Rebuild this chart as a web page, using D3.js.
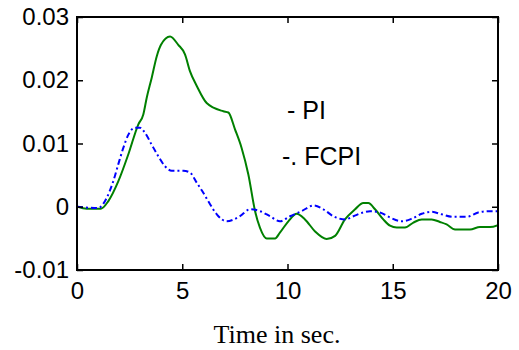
<!DOCTYPE html>
<html>
<head>
<meta charset="utf-8">
<script src="https://cdn.jsdelivr.net/npm/d3@7"></script>
<style>
  html, body { margin: 0; padding: 0; background: #fff; }
  svg { display: block; }
</style>
</head>
<body>
<div id="chart"></div>
<script>
// ---- data ----
const piTime = [0.03, 0.46, 1.14, 1.49, 1.96, 2.44, 2.91, 3.15, 3.31, 3.55, 3.79, 3.99, 4.42, 4.81, 5.13, 5.37, 5.69, 6.16, 6.95, 7.19, 7.51, 7.82, 8.14, 8.46, 8.69, 9.01, 9.41, 9.64, 10.04, 10.44, 10.83, 11.31, 11.86, 12.26, 12.73, 13.21, 13.60, 13.84, 14.16, 14.55, 14.87, 15.19, 15.58, 15.98, 16.38, 16.85, 17.24, 17.56, 17.96, 18.67, 19.14, 19.62, 20.0];
const piValue = [0, -0.0003, -0.0003, 0.0009, 0.0040, 0.0083, 0.0130, 0.0146, 0.0172, 0.0204, 0.0238, 0.0256, 0.0269, 0.0256, 0.0241, 0.0214, 0.0191, 0.0164, 0.0151, 0.0149, 0.0122, 0.0093, 0.0051, -0.0007, -0.0033, -0.0050, -0.0050, -0.0041, -0.0023, -0.0011, -0.0020, -0.0039, -0.0051, -0.0046, -0.0020, -0.0004, 0.0006, 0.0006, -0.0004, -0.0020, -0.0030, -0.0033, -0.0033, -0.0025, -0.0020, -0.0020, -0.0024, -0.0028, -0.0036, -0.0036, -0.0032, -0.0032, -0.0029];
const fcpiTime = [0, 1.01, 1.41, 1.72, 1.96, 2.20, 2.44, 2.76, 2.99, 3.23, 3.55, 3.86, 4.18, 4.50, 5.05, 5.37, 5.69, 6.00, 6.32, 6.64, 7.11, 7.74, 8.22, 8.69, 9.17, 9.64, 10.12, 10.67, 11.23, 11.70, 12.18, 12.73, 13.13, 13.60, 13.92, 14.39, 14.87, 15.43, 15.90, 16.38, 16.85, 17.33, 17.88, 18.51, 19.06, 19.54, 20.0];
const fcpiValue = [0, -0.0002, 0.0014, 0.0040, 0.0067, 0.0093, 0.0114, 0.0125, 0.0125, 0.0117, 0.0098, 0.0080, 0.0064, 0.0057, 0.0057, 0.0054, 0.0038, 0.0022, 0.0004, -0.0012, -0.0023, -0.0015, -0.0004, -0.0007, -0.0015, -0.0023, -0.0015, -0.0007, 0.0002, -0.0004, -0.0015, -0.0020, -0.0015, -0.0009, -0.0007, -0.0009, -0.0017, -0.0023, -0.0019, -0.0011, -0.0008, -0.0012, -0.0016, -0.0016, -0.0009, -0.0007, -0.0007];
const xTicks = [0, 5, 10, 15, 20];
const xTickLabels = ["0", "5", "10", "15", "20"];
const yTicks = [0.03, 0.02, 0.01, 0, -0.01];
const yTickLabels = ["0.03", "0.02", "0.01", "0", "-0.01"];
const legendLabels = ["- PI", "-. FCPI"];
const xLabel = "Time in sec.";

// ---- layout ----
const W = 519, H = 350;
const mLeft = 77, mRight = 498, mTop = 17, mBottom = 270;

const svg = d3.select("#chart").append("svg").attr("width", W).attr("height", H);

const x = d3.scaleLinear().domain([0, 20]).range([mLeft, mRight]);
const y = d3.scaleLinear().domain([-0.01, 0.03]).range([mBottom, mTop]);

const line = d3.line().x(d => x(d[0])).y(d => y(d[1])).curve(d3.curveMonotoneX);

svg.append("clipPath").attr("id", "clip")
  .append("rect").attr("x", mLeft).attr("y", mTop).attr("width", mRight - mLeft).attr("height", mBottom - mTop);

const plot = svg.append("g").attr("clip-path", "url(#clip)");
plot.append("path")
  .datum(piTime.map((t, i) => [t, piValue[i]]))
  .attr("d", line).attr("fill", "none").attr("stroke", "#008000").attr("stroke-width", 2);
plot.append("path")
  .datum(fcpiTime.map((t, i) => [t, fcpiValue[i]]))
  .attr("d", line).attr("fill", "none").attr("stroke", "#0000ff").attr("stroke-width", 2)
  .attr("stroke-dasharray", "6,3,2,3");

const fontAxis = "'Liberation Sans', Arial, sans-serif";

function styleAxis(g, showText) {
  g.select(".domain").remove();
  g.selectAll(".tick line").attr("stroke", "#000").attr("stroke-width", 1.5);
  g.selectAll(".tick text").attr("fill", "#000").style("font-family", fontAxis).style("font-size", "24px");
  if (!showText) g.selectAll(".tick text").remove();
}

svg.append("g").attr("transform", `translate(${mLeft},0)`)
  .call(d3.axisLeft(y).tickValues(yTicks).tickSize(-6).tickPadding(8)
    .tickFormat((d, i) => yTickLabels[i]))
  .call(g => styleAxis(g, true));
svg.append("g").attr("transform", `translate(${mRight},0)`)
  .call(d3.axisRight(y).tickValues(yTicks).tickSize(-6).tickFormat(""))
  .call(g => styleAxis(g, false));
svg.append("g").attr("transform", `translate(0,${mBottom})`)
  .call(d3.axisBottom(x).tickValues(xTicks).tickSize(-6).tickPadding(12)
    .tickFormat((d, i) => xTickLabels[i]))
  .call(g => styleAxis(g, true));
svg.append("g").attr("transform", `translate(0,${mTop})`)
  .call(d3.axisTop(x).tickValues(xTicks).tickSize(-6).tickFormat(""))
  .call(g => styleAxis(g, false));

svg.append("rect").attr("x", mLeft).attr("y", mTop).attr("width", mRight - mLeft).attr("height", mBottom - mTop)
  .attr("fill", "none").attr("stroke", "#000").attr("stroke-width", 2);

// legend text
svg.append("text").attr("x", 287).attr("y", 119).text(legendLabels[0])
  .style("font-family", fontAxis).style("font-size", "25px").attr("fill", "#000");
svg.append("text").attr("x", 282).attr("y", 165).text(legendLabels[1])
  .style("font-family", fontAxis).style("font-size", "25px").attr("fill", "#000");

svg.append("text").attr("x", 277).attr("y", 343).attr("text-anchor", "middle").text(xLabel)
  .style("font-family", "'Liberation Serif', 'Times New Roman', serif").style("font-size", "26px").attr("fill", "#000");
</script>
</body>
</html>
